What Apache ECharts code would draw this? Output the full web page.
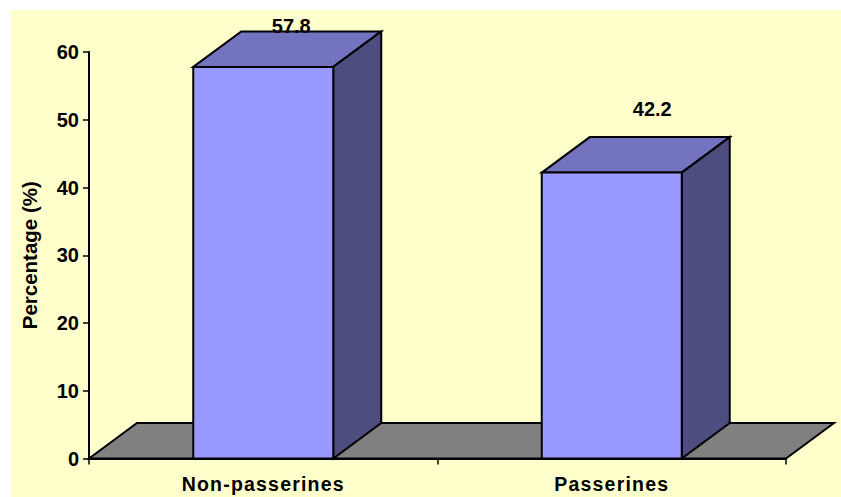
<!DOCTYPE html>
<html><head><meta charset="utf-8">
<style>html,body{margin:0;padding:0;background:#fff}#c{width:841px;height:497px}
svg text[style*="19.5px"]{letter-spacing:1.2px}</style>
<script src="https://cdn.jsdelivr.net/npm/echarts@6/dist/echarts.min.js"></script>
</head><body><div id="c"></div>
<script>
const categories = ['Non-passerines', 'Passerines'];
const percentages = [57.8, 42.2];
const valueTicks = [0, 10, 20, 30, 40, 50, 60];

const depthX = 48, depthY = 35.5, barWidth = 140;
const labelShiftX = [28, 40.5], labelLift = [-4.5, 18.5];
const font = '"Liberation Sans", Arial, sans-serif';
const edge = { stroke: '#000', lineWidth: 2, lineJoin: 'miter' };

const chart = echarts.init(document.getElementById('c'), null, { renderer: 'svg' });
chart.setOption({
  animation: false,
  backgroundColor: '#fff',
  graphic: [{ type: 'rect', z: -1, shape: { x: 11, y: 10, width: 830, height: 487 }, style: { fill: '#FFFFCC' }, silent: true }],
  grid: { left: 89, top: 52, width: 697, height: 406.5, containLabel: false },
  xAxis: {
    type: 'category', data: categories,
    axisLine: { lineStyle: { color: '#000', width: 2 } },
    axisTick: { show: true, alignWithLabel: false, length: 6, lineStyle: { color: '#000', width: 1.5 } },
    axisLabel: { color: '#000', fontFamily: font, fontWeight: 'bold', fontSize: 19.5, margin: 15 },
    splitLine: { show: false }
  },
  yAxis: {
    type: 'value', min: valueTicks[0], max: valueTicks[valueTicks.length - 1], interval: 10,
    name: 'Percentage (%)', nameLocation: 'middle', nameGap: 49, nameRotate: 90,
    nameTextStyle: { color: '#000', fontFamily: font, fontWeight: 'bold', fontSize: 20.5 },
    axisLine: { show: true, lineStyle: { color: '#000', width: 2 } },
    axisTick: { show: true, length: 6, lineStyle: { color: '#000', width: 1.5 } },
    axisLabel: { color: '#000', fontFamily: font, fontWeight: 'bold', fontSize: 20, margin: 10 },
    splitLine: { show: false }
  },
  series: [
    {
      type: 'custom', z: 1, silent: true, data: [0],
      renderItem(params, api) {
        const c0 = api.coord([0, 0]), c1 = api.coord([categories.length - 1, 0]);
        const half = api.size([1, 0])[0] / 2;
        const l = c0[0] - half, r = c1[0] + half, y = c0[1];
        return { type: 'polygon', shape: { points: [[l, y], [l + depthX, y - depthY], [r + depthX, y - depthY], [r, y]] },
          style: { fill: '#808080', ...edge } };
      }
    },
    {
      type: 'custom', z: 3, silent: true,
      data: percentages.map((v, i) => [i, v]),
      encode: { x: 0, y: 1 },
      renderItem(params, api) {
        const i = params.dataIndex;
        const base = api.coord([api.value(0), 0]), top = api.coord([api.value(0), api.value(1)]);
        const l = base[0] - barWidth / 2, r = base[0] + barWidth / 2, b = base[1], t = top[1];
        return { type: 'group', children: [
          { type: 'polygon', shape: { points: [[l, t], [l + depthX, t - depthY], [r + depthX, t - depthY], [r, t]] }, style: { fill: '#7373BF', ...edge } },
          { type: 'polygon', shape: { points: [[r, t], [r + depthX, t - depthY], [r + depthX, b - depthY], [r, b]] }, style: { fill: '#4D4D80', ...edge } },
          { type: 'rect', shape: { x: l, y: t, width: barWidth, height: b - t }, style: { fill: '#9999FF', ...edge } },
          { type: 'text', z2: 10, style: { x: base[0] + labelShiftX[i], y: t - depthY - labelLift[i], text: String(api.value(1)),
              fill: '#000', font: 'bold 20px ' + font, textAlign: 'center', textVerticalAlign: 'bottom' } }
        ] };
      }
    }
  ]
});
</script></body></html>
